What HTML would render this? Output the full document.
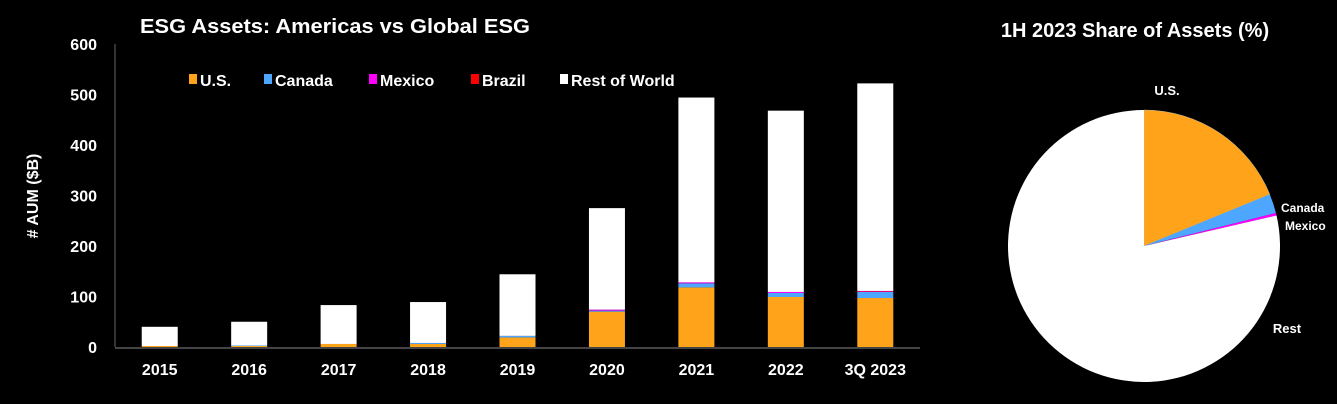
<!DOCTYPE html>
<html><head><meta charset="utf-8"><style>
html,body{margin:0;padding:0;background:#000;width:1337px;height:404px;overflow:hidden}
svg text{font-family:"Liberation Sans",Arial,sans-serif;fill:#fff;font-weight:bold}
</style></head><body>
<svg id="c" width="1337" height="404" xmlns="http://www.w3.org/2000/svg">
<text x="140" y="33" font-size="20" textLength="390" lengthAdjust="spacingAndGlyphs">ESG Assets: Americas vs Global ESG</text>
<text x="1135" y="37" font-size="20" text-anchor="middle">1H 2023 Share of Assets (%)</text>
<text transform="translate(38,196) rotate(-90)" font-size="16" text-anchor="middle">#  AUM ($B)</text>
<g id="bars"></g>
<g id="pie"></g>
</svg>
<script>
const categories=["2015","2016","2017","2018","2019","2020","2021","2022","3Q 2023"];
const us=[2,2,6,6,19,70,118,99,97];
const canada=[0,1,0,2,3,2,8,8,12];
const mexico=[0,0,0,0,0,2,2,2,1];
const brazil=[0,0,0,0,0,0,0,0,1];
const totals=[40,50,83,89,144,275,494,468,522];
const yTicks=[0,100,200,300,400,500,600];
const seriesNames=["U.S.","Canada","Mexico","Brazil","Rest of World"];
const seriesColors=["#FFA31A","#4DA6FF","#FF00FF","#FF0000","#FFFFFF"];
const pieLabels=["U.S.","Canada","Mexico","Rest"];
const pieValues=[18.8,2.3,0.3,78.6];

const NS="http://www.w3.org/2000/svg";
function mk(t,a,p){const e=document.createElementNS(NS,t);for(const k in a)e.setAttribute(k,a[k]);p.appendChild(e);return e;}
const g=document.getElementById('bars');
const x0=115,x1=920,yb=347,yt=44;
const y=v=>yb-(v/600)*(yb-yt);
const bw=(x1-x0)/categories.length;
const xc=i=>x0+bw*(i+0.5);
yTicks.forEach(t=>{const e=mk('text',{x:97,y:y(t)+6,'font-size':16,'text-anchor':'end'},g);e.textContent=t;

});
const ax=mk('line',{x1:x0,y1:yt,x2:x0,y2:yb,stroke:'#444','stroke-width':1.5},g);


categories.forEach((c,i)=>{
 const vals=[us[i],canada[i],mexico[i],brazil[i]];
 const rest=totals[i]-vals.reduce((a,b)=>a+b,0);vals.push(rest);
 let acc=0;
 vals.forEach((v,s)=>{if(v<=0)return;
  const r=mk('rect',{x:xc(i)-18,y:y(acc+v),width:36,height:y(acc)-y(acc+v),fill:seriesColors[s]},g);
  
  
  acc+=v;});
 const t=mk('text',{x:xc(i),y:375,'font-size':16,'text-anchor':'middle'},g);t.textContent=c;
 
 
});
const bx=mk('line',{x1:x0,y1:yb+1,x2:x1,y2:yb+1,stroke:'#444','stroke-width':2},g);


const lx=[189,264,369,471,560];
seriesNames.forEach((n,s)=>{
 const le=mk('g',{},g);
 
 
 mk('rect',{x:lx[s],y:74,width:8,height:10,fill:seriesColors[s]},le);
 const t=mk('text',{x:lx[s]+11,y:86,'font-size':16},le);t.textContent=n;
});
const p=document.getElementById('pie');
const cx=1144,cy=246,R=136;
const pcol=["#FFA31A","#4DA6FF","#FF00FF","#FFFFFF"];
const sum=pieValues.reduce((a,b)=>a+b,0);
let a0=0;
pieValues.forEach((v,i)=>{
 const a1=a0+v/sum*2*Math.PI;
 const px=a=>cx+R*Math.sin(a),py=a=>cy-R*Math.cos(a);
 const d=`M${cx},${cy}L${px(a0)},${py(a0)}A${R},${R} 0 ${a1-a0>Math.PI?1:0} 1 ${px(a1)},${py(a1)}Z`;
 const s=mk('path',{d:d,fill:pcol[i],stroke:i===0?'#bba':'none','stroke-width':0.5},p);
 
 
 a0=a1;
});
const pl=[[1167,95,13,"middle"],[1281,212,12,"start"],[1285,230,12,"start"],[1287,333,13,"middle"]];
pieLabels.forEach((n,i)=>{
 const t=mk('text',{x:pl[i][0],y:pl[i][1],'font-size':pl[i][2],'text-anchor':pl[i][3]},p);t.textContent=n;
 
 
});
</script>
</body></html>
